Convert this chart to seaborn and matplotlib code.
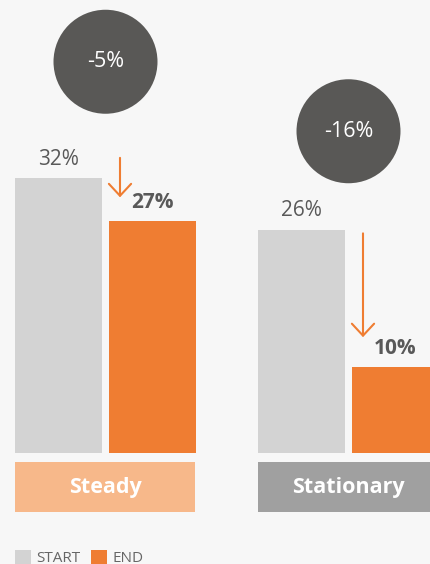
import matplotlib
matplotlib.use("Agg")
import matplotlib.pyplot as plt
import seaborn as sns
import pandas as pd
from matplotlib.patches import Rectangle, Ellipse

# Data
groups = ["Steady", "Stationary"]
phases = ["START", "END"]
start_values = [32, 26]
end_values = [27, 10]
changes = ["-5%", "-16%"]

df = pd.DataFrame({
    "group": groups * 2,
    "phase": ["START"] * len(groups) + ["END"] * len(groups),
    "value": start_values + end_values,
})

# Colours
BG = "#f7f7f7"
START_C = "#d3d3d3"
END_C = "#ef7d32"
TEXT_C = "#595959"
CIRCLE_C = "#595856"
BOX_COLORS = ["#f7b88a", "#a0a0a0"]

# Layout (pixels)
W, H, DPI = 431, 564, 100
BASE = 453          # baseline, from top
PY = 8.58           # pixels per percentage point
PX = 243            # pixels per group
X0 = 105.5          # first group centre
circle_y = [45.6, 37.5]
arrow_tail = [34.4, 25.6]
arrow_head = [29.8, 13.5]

sns.set_theme(style="white")
plt.rcParams["font.family"] = ["Open Sans", "DejaVu Sans"]

fig = plt.figure(figsize=(W / DPI, H / DPI), dpi=DPI, facecolor=BG)
ax = fig.add_axes([0, 0, 1, 1])
ax.set_facecolor(BG)

sns.barplot(data=df, x="group", y="value", hue="phase", order=groups,
            hue_order=phases, palette=[START_C, END_C], width=0.774,
            gap=0.0745, saturation=1, linewidth=0, legend=False, ax=ax)

ax.set_xlim(-X0 / PX, (W - X0) / PX)
ax.set_ylim((BASE - H) / PY, BASE / PY)
ax.axis("off")

# value labels above bars
for ci, cont in enumerate(ax.containers):
    for bar in cont:
        v = bar.get_height()
        ax.annotate(f"{v:.0f}%", (bar.get_x() + bar.get_width() / 2, v),
                    xytext=(0, 19 * 0.72), textcoords="offset points",
                    ha="center", va="center", fontsize=15, color=TEXT_C,
                    fontweight="bold" if ci == 1 else "normal")

for gi, g in enumerate(groups):
    # change bubble
    ax.add_patch(Ellipse((gi, circle_y[gi]), 104 / PX, 104 / PY,
                         color=CIRCLE_C, lw=0))
    ax.text(gi, circle_y[gi], changes[gi], ha="center", va="center",
            fontsize=15.5, color="white")
    # arrow from start to end
    ax_x = gi + 14.5 / PX
    ax.annotate("", xy=(ax_x, arrow_head[gi]), xytext=(ax_x, arrow_tail[gi]),
                arrowprops=dict(arrowstyle="->,head_length=0.43,head_width=0.4",
                                mutation_scale=20, color=END_C, lw=1.5,
                                shrinkA=0, shrinkB=0))
    # category box
    ax.add_patch(Rectangle((gi - 90.5 / PX, -59 / PY), 180 / PX, 50 / PY,
                           color=BOX_COLORS[gi], lw=0))
    ax.text(gi, -34 / PY, g, ha="center", va="center", fontsize=15.5,
            fontweight="bold", color="white")

handles = [Rectangle((0, 0), 1, 1, color=c, lw=0) for c in (START_C, END_C)]
fig.legend(handles, phases, loc="upper left", bbox_to_anchor=(15 / W, 1 - 550 / H),
           ncol=2, frameon=False, fontsize=11, labelcolor="#666666",
           handlelength=1.05, handleheight=1.05, handletextpad=0.33,
           columnspacing=0.72, borderpad=0, borderaxespad=0)

fig.savefig("out.png", dpi=DPI, facecolor=BG)
